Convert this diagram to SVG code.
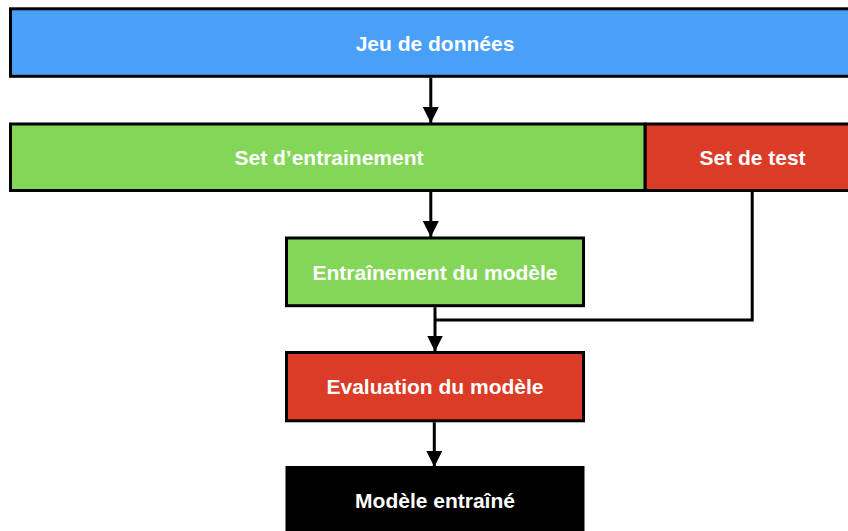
<svg xmlns="http://www.w3.org/2000/svg" width="848" height="531" viewBox="0 0 848 531">
  <defs>
    <style>
      .box { stroke: #000; stroke-width: 3; }
      .blue { fill: #4A9FF8; }
      .green { fill: #84D658; }
      .red { fill: #DA3C28; }
      .dark { fill: #000; }
      .label { fill: #fff; font-family: "Liberation Sans", Arial, Helvetica, sans-serif; font-weight: bold; font-size: 21px; text-anchor: middle; }
      .wire { fill: none; stroke: #000; stroke-width: 3; }
    </style>
    <marker id="arrow" markerUnits="userSpaceOnUse" markerWidth="16" markerHeight="16" viewBox="0 0 16 16" refX="16" refY="8" orient="auto">
      <path d="M0,0 L16,8 L0,16 Z" fill="#000"/>
    </marker>
  </defs>

  <rect width="848" height="531" fill="#fff"/>

  <g id="jeu-de-donnees">
    <rect class="box blue" x="10.5" y="8.8" width="860" height="67.5"/>
    <text class="label" x="435" y="51">Jeu de données</text>
  </g>

  <g id="set-entrainement">
    <rect class="box green" x="10.5" y="124" width="634.7" height="66.5"/>
    <text class="label" x="329" y="165">Set d’entrainement</text>
  </g>

  <g id="set-test">
    <rect class="box red" x="645.2" y="124" width="220" height="66.5"/>
    <text class="label" x="752.5" y="165">Set de test</text>
  </g>

  <g id="entrainement-modele">
    <rect class="box green" x="286.5" y="238" width="297" height="67.7"/>
    <text class="label" x="435" y="280">Entraînement du modèle</text>
  </g>

  <g id="evaluation-modele">
    <rect class="box red" x="286.5" y="352.5" width="297" height="68.3"/>
    <text class="label" x="435" y="394">Evaluation du modèle</text>
  </g>

  <g id="modele-entraine">
    <rect class="box dark" x="287" y="467.5" width="296" height="70"/>
    <text class="label" x="435" y="508">Modèle entraîné</text>
  </g>

  <g id="connectors">
    <line class="wire" x1="430.8" y1="77.8" x2="430.8" y2="123" marker-end="url(#arrow)"/>
    <line class="wire" x1="430.8" y1="192" x2="430.8" y2="237" marker-end="url(#arrow)"/>
    <line class="wire" x1="435" y1="307.2" x2="435" y2="351.5" marker-end="url(#arrow)"/>
    <polyline class="wire" points="752.2,192 752.2,320 435,320"/>
    <line class="wire" x1="434.3" y1="422.3" x2="434.3" y2="467" marker-end="url(#arrow)"/>
  </g>
</svg>
